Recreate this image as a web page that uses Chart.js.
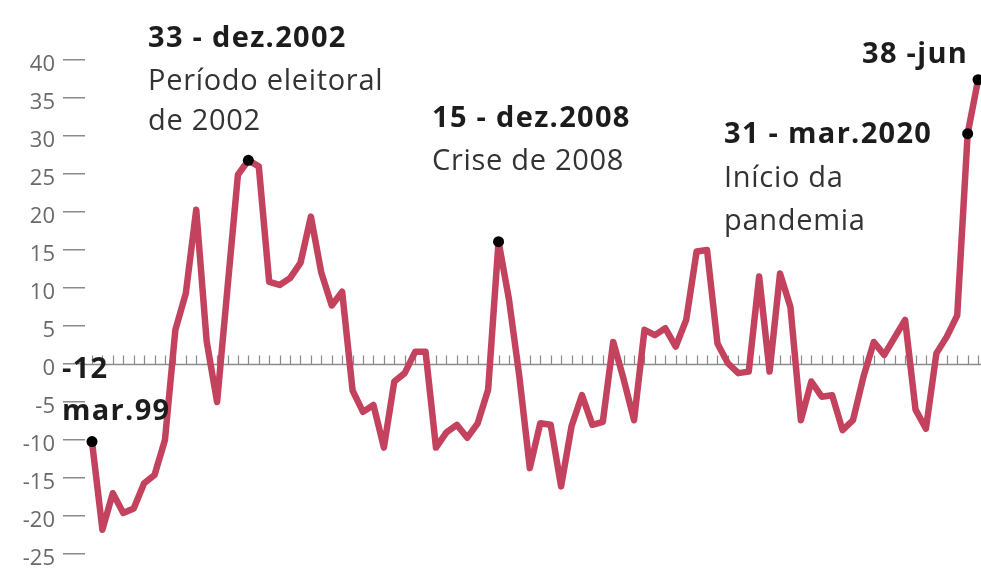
<!DOCTYPE html>
<html>
<head>
<meta charset="utf-8">
<script src="https://cdn.jsdelivr.net/npm/chart.js@4/dist/chart.umd.min.js"></script>
<style>
  html, body { margin: 0; padding: 0; background: #ffffff; }
  #wrap { width: 981px; height: 580px; position: relative; }
</style>
</head>
<body>
<div id="wrap"><canvas id="c" width="981" height="580"></canvas></div>
<script>
// Quarterly categories (mar.99 ... jun.20)
const quarters = [
  "mar.99","jun.99","set.99","dez.99",
  "mar.00","jun.00","set.00","dez.00",
  "mar.01","jun.01","set.01","dez.01",
  "mar.02","jun.02","set.02","dez.02",
  "mar.03","jun.03","set.03","dez.03",
  "mar.04","jun.04","set.04","dez.04",
  "mar.05","jun.05","set.05","dez.05",
  "mar.06","jun.06","set.06","dez.06",
  "mar.07","jun.07","set.07","dez.07",
  "mar.08","jun.08","set.08","dez.08",
  "mar.09","jun.09","set.09","dez.09",
  "mar.10","jun.10","set.10","dez.10",
  "mar.11","jun.11","set.11","dez.11",
  "mar.12","jun.12","set.12","dez.12",
  "mar.13","jun.13","set.13","dez.13",
  "mar.14","jun.14","set.14","dez.14",
  "mar.15","jun.15","set.15","dez.15",
  "mar.16","jun.16","set.16","dez.16",
  "mar.17","jun.17","set.17","dez.17",
  "mar.18","jun.18","set.18","dez.18",
  "mar.19","jun.19","set.19","dez.19",
  "mar.20","jun.20"
];

// Series values
const values = [
  -10.2, -21.8, -17.0, -19.6, -19.0, -15.7, -14.6, -10.0,
    4.5,   9.3,  20.3,   3.0,  -5.0,  10.0,  24.9,  26.8,
   26.0,  10.8,  10.4,  11.3,  13.3,  19.4,  12.0,   7.7,
    9.5,  -3.5,  -6.3,  -5.4, -11.0,  -2.3,  -1.2,   1.6,
    1.6, -11.0,  -9.0,  -8.0,  -9.7,  -7.8,  -3.4,  16.1,
    8.5,  -1.7, -13.7,  -7.8,  -8.0, -16.1,  -8.2,  -4.1,
   -8.0,  -7.6,   2.9,  -2.0,  -7.4,   4.5,   3.8,   4.7,
    2.3,   5.8,  14.8,  15.0,   2.7,   0.1,  -1.2,  -1.0,
   11.5,  -1.0,  11.9,   7.5,  -7.4,  -2.3,  -4.3,  -4.1,
   -8.7,  -7.4,  -1.7,   2.9,   1.2,   3.5,   5.8,  -6.0,
   -8.5,   1.4,   3.6,   6.4,  30.3,  37.4
];

// Highlighted (dotted) points
const highlighted = ["mar.99", "dez.02", "dez.08", "mar.20", "jun.20"];

// Y axis tick values / labels
const yTickValues = [40, 35, 30, 25, 20, 15, 10, 5, 0, -5, -10, -15, -20, -25];
const yTickLabels = ["40", "35", "30", "25", "20", "15", "10", "5", "0", "-5", "-10", "-15", "-20", "-25"];

// Annotation texts
const annoBold = ["33 - dez.2002", "15 - dez.2008", "31 - mar.2020", "38 -jun", "-12", "mar.99"];
const annoRegular = ["Período eleitoral", "de 2002", "Crise de 2008", "Início da", "pandemia"];

const LINE_COLOR = "#c3435f";
const AXIS_GRAY = "#8a8a8a";

const points = values.map((v, i) => ({ x: i, y: v }));
const hiIdx = highlighted.map(q => quarters.indexOf(q));
const radii = values.map((v, i) => hiIdx.includes(i) ? 5.5 : 0);

const zeroLinePlugin = {
  id: "zeroLine",
  beforeDatasetsDraw(chart) {
    const ctx = chart.ctx;
    const xs = chart.scales.x, ys = chart.scales.y;
    const y0 = Math.round(ys.getPixelForValue(0)) + 0.5;
    ctx.save();
    ctx.strokeStyle = AXIS_GRAY;
    ctx.lineWidth = 1.5;
    ctx.beginPath();
    ctx.moveTo(chart.chartArea.left, y0);
    ctx.lineTo(chart.chartArea.right, y0);
    ctx.stroke();
    ctx.lineWidth = 1.2;
    ctx.beginPath();
    quarters.forEach((q, i) => {
      const x = Math.round(xs.getPixelForValue(i)) + 0.5;
      ctx.moveTo(x, y0);
      ctx.lineTo(x, y0 - 9);
    });
    ctx.stroke();
    ctx.restore();
  }
};

const annotationPlugin = {
  id: "annotations",
  afterDraw(chart) {
    const ctx = chart.ctx;
    ctx.save();
    ctx.textBaseline = "alphabetic";
    ctx.textAlign = "left";
    const bold = (t, x, y) => {
      ctx.font = "bold 29px 'Open Sans'";
      ctx.letterSpacing = "1.3px";
      ctx.fillStyle = "#1c1c1c";
      ctx.fillText(t, x, y);
    };
    const reg = (t, x, y) => {
      ctx.font = "29px 'Open Sans'";
      ctx.letterSpacing = "0.7px";
      ctx.fillStyle = "#333333";
      ctx.fillText(t, x, y);
    };
    bold(annoBold[0], 148, 47);
    reg(annoRegular[0], 148, 90);
    reg(annoRegular[1], 148, 130);
    bold(annoBold[1], 432, 127);
    reg(annoRegular[2], 432, 170);
    bold(annoBold[2], 724, 143);
    reg(annoRegular[3], 724, 187);
    reg(annoRegular[4], 724, 230);
    bold(annoBold[3], 862, 63);
    bold(annoBold[4], 62, 378);
    bold(annoBold[5], 62, 420);
    ctx.restore();
  }
};

new Chart(document.getElementById("c"), {
  type: "line",
  data: {
    labels: quarters,
    datasets: [{
      data: points,
      borderColor: LINE_COLOR,
      borderWidth: 6.5,
      borderJoinStyle: "round",
      borderCapStyle: "round",
      tension: 0,
      fill: false,
      pointRadius: radii,
      pointHoverRadius: radii,
      pointBackgroundColor: "#000000",
      pointBorderColor: "#000000",
      pointBorderWidth: 0,
      clip: false
    }]
  },
  options: {
    responsive: false,
    animation: false,
    devicePixelRatio: 1,
    layout: { autoPadding: false, padding: { top: 44.8, bottom: 3.2, left: 0, right: 0 } },
    plugins: { legend: { display: false }, tooltip: { enabled: false } },
    scales: {
      x: {
        type: "linear",
        display: false,
        min: -0.67,
        max: 85.28
      },
      y: {
        min: -28,
        max: 42,
        afterBuildTicks(scale) {
          scale.ticks = yTickValues.map(v => ({ value: v }));
        },
        afterFit(scale) {
          scale.width = 85;
          scale.paddingTop = 0;
          scale.paddingBottom = 0;
        },
        border: { display: false },
        grid: {
          drawOnChartArea: false,
          drawTicks: true,
          tickLength: 22,
          color: AXIS_GRAY,
          lineWidth: 1.5
        },
        ticks: {
          color: "#6a6a6a",
          font: { family: "'Open Sans'", size: 22 },
          padding: 8,
          labelOffset: 5,
          callback(value) {
            const k = yTickValues.indexOf(value);
            return k >= 0 ? yTickLabels[k] : "";
          }
        }
      }
    }
  },
  plugins: [zeroLinePlugin, annotationPlugin]
});
</script>
</body>
</html>
